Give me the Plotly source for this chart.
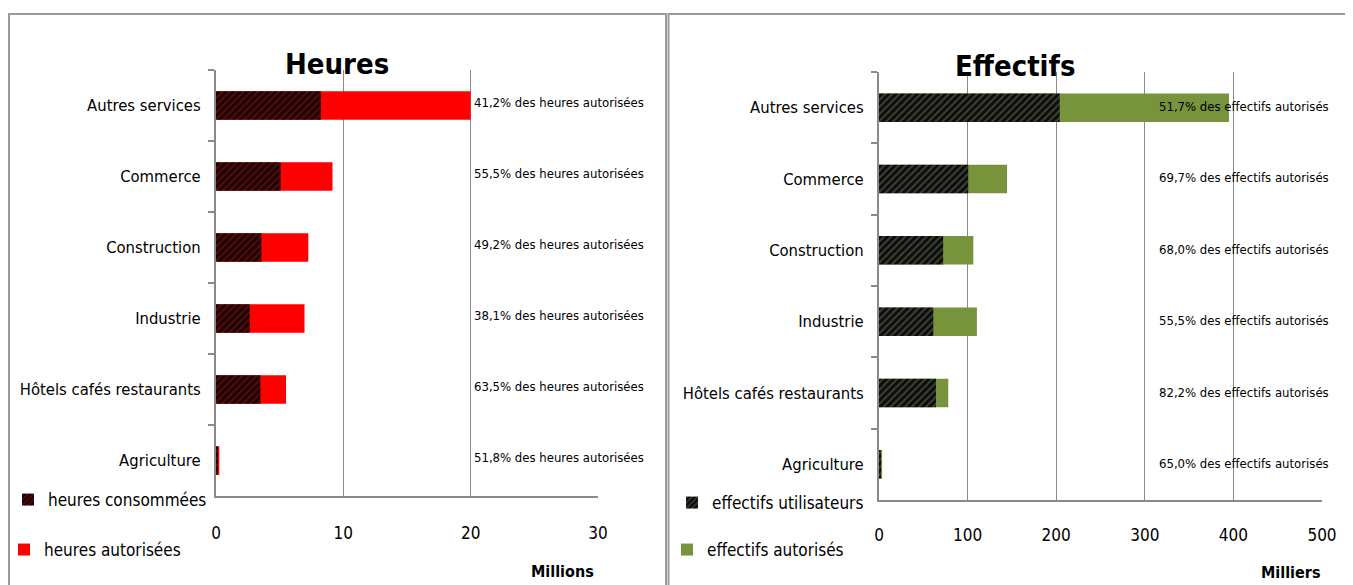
import plotly.graph_objects as go

# ---------------- data ----------------
categories = ["Autres services", "Commerce", "Construction", "Industrie",
              "Hôtels cafés restaurants", "Agriculture"]

# Heures (millions)
heures_autorisees = [20.0, 9.15, 7.25, 6.95, 5.50, 0.26]
heures_consommees = [8.24, 5.08, 3.57, 2.65, 3.49, 0.13]
pct_heures = [41.2, 55.5, 49.2, 38.1, 63.5, 51.8]

# Effectifs (milliers)
effectifs_autorises = [395.0, 144.5, 106.5, 110.5, 78.2, 3.5]
effectifs_utilisateurs = [204.0, 100.7, 72.4, 61.3, 64.3, 2.3]
pct_effectifs = [51.7, 69.7, 68.0, 55.5, 82.2, 65.0]

heures_ticks = [0, 10, 20, 30]
effectifs_ticks = [0, 100, 200, 300, 400, 500]

# ---------------- style ----------------
# page body has an 8px margin: the figure is drawn at (8, 8) on the page
OX, OY = 8, 8
FW, FH = 1345, 577
FONT = "DejaVu Sans Condensed, Liberation Sans Narrow, Arial Narrow, sans-serif"
GRID = "#8a8a8a"
RED = "#FF0000"
GREEN = "#77933C"


def px(x):
    return (x - OX) / FW


def py(y):
    return 1 - (y - OY) / FH


def fmt(p):
    return f"{p:.1f}".replace(".", ",") + "%"


fig = go.Figure()

# Left chart: heures
fig.add_trace(go.Bar(
    y=categories, x=heures_autorisees, orientation="h", name="heures autorisées",
    marker=dict(color=RED, line=dict(width=0)), xaxis="x", yaxis="y",
    legend="legend2", hoverinfo="x+y"))
fig.add_trace(go.Bar(
    y=categories, x=heures_consommees, orientation="h", name="heures consommées",
    marker=dict(color="#2a0404", line=dict(width=0),
                pattern=dict(shape="/", bgcolor="#1e0202", fgcolor="#8c1a1a",
                             size=5, solidity=0.35)),
    xaxis="x", yaxis="y", legend="legend", hoverinfo="x+y"))

# Right chart: effectifs
fig.add_trace(go.Bar(
    y=categories, x=effectifs_autorises, orientation="h", name="effectifs autorisés",
    marker=dict(color=GREEN, line=dict(width=0)), xaxis="x2", yaxis="y2",
    legend="legend4", hoverinfo="x+y"))
fig.add_trace(go.Bar(
    y=categories, x=effectifs_utilisateurs, orientation="h", name="effectifs utilisateurs",
    marker=dict(color="#111111", line=dict(width=0),
                pattern=dict(shape="/", bgcolor="#0d0d0d", fgcolor="#6f7f5a",
                             size=5, solidity=0.35)),
    xaxis="x2", yaxis="y2", legend="legend3", hoverinfo="x+y"))

axis_font = dict(family=FONT, size=17, color="#000000")
label_font = dict(family=FONT, size=16.5, color="#000000")

common_x = dict(showgrid=True, gridcolor=GRID, gridwidth=1, showline=True,
                linecolor=GRID, linewidth=2, zeroline=False, ticks="",
                tickfont=axis_font, fixedrange=True, automargin=False)
common_y = dict(showgrid=False, showline=True, linecolor=GRID, linewidth=2,
                ticks="outside", ticklen=6, tickcolor=GRID, tickwidth=2,
                tickson="boundaries", autorange="reversed",
                tickfont=label_font, ticklabelstandoff=10, fixedrange=True,
                automargin=False)

fig.update_layout(
    width=FW, height=FH,
    margin=dict(l=0, r=0, t=0, b=0, autoexpand=False),
    paper_bgcolor="white", plot_bgcolor="white",
    barmode="overlay", bargap=0.6,
    font=dict(family=FONT, color="#000000"),
    xaxis=dict(domain=[px(216), px(598)], range=[0, 30], tickvals=heures_ticks,
               anchor="y", ticklabelstandoff=21, **common_x),
    yaxis=dict(domain=[py(496), py(70)], anchor="x", **common_y),
    xaxis2=dict(domain=[px(879), px(1322)], range=[0, 500], tickvals=effectifs_ticks,
                anchor="y2", ticklabelstandoff=19, **common_x),
    yaxis2=dict(domain=[py(500), py(72)], anchor="x2", **common_y),
    showlegend=True,
)

leg_common = dict(bgcolor="rgba(0,0,0,0)", borderwidth=0, xanchor="left",
                  yanchor="middle", font=dict(family=FONT, size=17, color="#000"))
fig.update_layout(
    legend=dict(x=px(8), y=py(500), **leg_common),
    legend2=dict(x=px(4), y=py(550), **leg_common),
    legend3=dict(x=px(672), y=py(503), **leg_common),
    legend4=dict(x=px(667), y=py(550), **leg_common),
)

annotations = []
for cat, p in zip(categories, pct_heures):
    annotations.append(dict(
        x=20.1, y=cat, xref="x", yref="y", xanchor="left", yanchor="middle",
        text=f"{fmt(p)} des heures autorisées", showarrow=False, yshift=3,
        font=dict(family=FONT, size=13, color="#000")))
for cat, p in zip(categories, pct_effectifs):
    annotations.append(dict(
        x=314, y=cat, xref="x2", yref="y2", xanchor="left", yanchor="middle",
        text=f"{fmt(p)} des effectifs autorisés", showarrow=False, yshift=1,
        font=dict(family=FONT, size=13, color="#000")))

annotations += [
    dict(x=px(337), y=py(64), xref="paper", yref="paper", text="<b>Heures</b>",
         showarrow=False, xanchor="center", yanchor="middle",
         font=dict(family=FONT, size=29, color="#000")),
    dict(x=px(1015), y=py(66), xref="paper", yref="paper", text="<b>Effectifs</b>",
         showarrow=False, xanchor="center", yanchor="middle",
         font=dict(family=FONT, size=29, color="#000")),
    dict(x=px(562), y=py(571), xref="paper", yref="paper", text="<b>Millions</b>",
         showarrow=False, xanchor="center", yanchor="middle",
         font=dict(family=FONT, size=16, color="#000")),
    dict(x=px(1290), y=py(572), xref="paper", yref="paper", text="<b>Milliers</b>",
         showarrow=False, xanchor="center", yanchor="middle",
         font=dict(family=FONT, size=16, color="#000")),
]
fig.update_layout(annotations=annotations)

# panel borders
fig.update_layout(shapes=[
    dict(type="rect", xref="paper", yref="paper", x0=px(9), x1=px(666),
         y0=py(600), y1=py(14), line=dict(color="#9a9a9a", width=2)),
    dict(type="rect", xref="paper", yref="paper", x0=px(668.5), x1=px(1365),
         y0=py(600), y1=py(14), line=dict(color="#9a9a9a", width=2)),
])

fig.write_html("out.html")
